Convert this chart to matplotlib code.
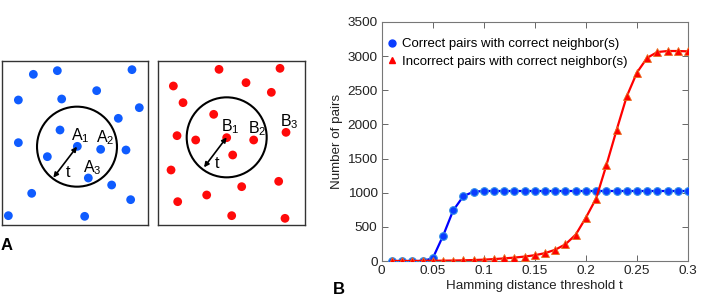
import matplotlib
matplotlib.use("Agg")
import matplotlib.pyplot as plt
from matplotlib.patches import Circle
from matplotlib.lines import Line2D

plt.rcParams['font.family'] = ['Liberation Sans', 'DejaVu Sans']
plt.rcParams['mathtext.fontset'] = 'custom'
plt.rcParams['mathtext.rm'] = 'Liberation Sans'
plt.rcParams['mathtext.it'] = 'Liberation Sans'

# ---- data (panel B) ----
t_vals = [0.01, 0.02, 0.03, 0.04, 0.05, 0.06, 0.07, 0.08, 0.09, 0.10,
          0.11, 0.12, 0.13, 0.14, 0.15, 0.16, 0.17, 0.18, 0.19, 0.20,
          0.21, 0.22, 0.23, 0.24, 0.25, 0.26, 0.27, 0.28, 0.29, 0.30]
correct_pairs = [0, 0, 0, 0, 40, 365, 740, 950, 1015, 1025,
                 1025, 1025, 1025, 1025, 1025, 1025, 1025, 1025, 1025, 1025,
                 1025, 1025, 1025, 1025, 1025, 1025, 1025, 1025, 1025, 1025]
incorrect_pairs = [0, 0, 0, 2, 3, 5, 7, 10, 14, 20,
                   28, 38, 50, 65, 85, 115, 165, 245, 385, 635,
                   915, 1400, 1915, 2410, 2760, 2975, 3060, 3075, 3075, 3070]
series_labels = ['Correct pairs with correct neighbor(s)',
                 'Incorrect pairs with correct neighbor(s)']
x_ticks = [0, 0.05, 0.1, 0.15, 0.2, 0.25, 0.3]
x_tick_labels = ['0', '0.05', '0.1', '0.15', '0.2', '0.25', '0.3']
y_ticks = [0, 500, 1000, 1500, 2000, 2500, 3000, 3500]

# ---- data (panel A schematic) ----
blue_x = [100, 172, 396, 55, 185, 290, 418, 355, 180, 232, 302, 378, 55, 142, 265, 335, 95, 392, 25, 254]
blue_y = [73, 62, 59, 150, 147, 122, 173, 205, 240, 289, 298, 300, 278, 320, 384, 405, 430, 449, 497, 499]
red_x = [192, 375, 55, 273, 349, 84, 176, 66, 122, 215, 296, 393, 233, 48, 371, 260, 155, 68, 230, 390]
red_y = [58, 55, 108, 98, 127, 158, 193, 257, 270, 263, 270, 247, 315, 360, 394, 410, 435, 455, 497, 505]

W, H = 727, 298
fig = plt.figure(figsize=(W / 100, H / 100), dpi=100)


def fax(l, t, r, b):
    return [l / W, 1 - b / H, (r - l) / W, (b - t) / H]


def schematic(ax, xs, ys, color, center, edge, letter, label_pos, t_pos, xlim):
    ax.set_xlim(*xlim)
    ax.set_ylim(525, 33)
    ax.set_xticks([])
    ax.set_yticks([])
    for s in ax.spines.values():
        s.set_color('#333333')
        s.set_linewidth(1.0)
    ax.scatter(xs, ys, s=40, color=color, edgecolors='none', zorder=3)
    ax.add_patch(Circle(center, 120, fill=False, lw=1.5, ec='black', zorder=4))
    ax.annotate('', xy=edge, xytext=center,
                arrowprops=dict(arrowstyle='<|-|>', color='black', lw=1.2,
                                mutation_scale=7, shrinkA=0, shrinkB=0), zorder=5)
    for i, (px, py) in enumerate(label_pos):
        ax.text(px, py, r'$\mathrm{%s}_{\mathrm{%d}}$' % (letter, i + 1), fontsize=11.5,
                ha='left', va='baseline', zorder=6)
    ax.text(t_pos[0], t_pos[1], 't', fontsize=11.5, ha='center', va='center', zorder=6)


axA = fig.add_axes(fax(1.7, 61, 148.3, 225))
schematic(axA, blue_x, blue_y, '#0f5cff', (231, 290), (160, 383), 'A',
          [(214, 272), (287, 277), (250, 368)], (203, 367), (5, 445))

axB = fig.add_axes(fax(157.7, 61, 305, 225))
schematic(axB, red_x, red_y, '#ff0a0a', (215, 262), (147, 352), 'B',
          [(199, 243), (280, 250), (376, 228)], (186, 340), (8, 450))

fig.text(7 / W, 1 - 245 / H, 'A', fontsize=12, fontweight='bold', ha='center', va='center')
fig.text(339 / W, 1 - 290 / H, 'B', fontsize=12, fontweight='bold', ha='center', va='center')

# ---- panel B plot ----
ax = fig.add_axes(fax(381.7, 22, 688, 261))
ax.plot(t_vals, correct_pairs, color='#0000ff', lw=1.6, marker='o', markersize=5.5,
        markerfacecolor='#0a3cff', markeredgecolor='#2f8fe8', markeredgewidth=0.8, zorder=3)
ax.plot(t_vals, incorrect_pairs, color='#ff0000', lw=1.6, marker='^', markersize=5.5,
        markerfacecolor='#ff0000', markeredgecolor='#e87020', markeredgewidth=0.6, zorder=4)
ax.set_xlim(0, 0.3)
ax.set_ylim(0, 3500)
ax.set_xticks(x_ticks)
ax.set_xticklabels(x_tick_labels)
ax.set_yticks(y_ticks)
ax.tick_params(direction='in', top=True, right=True, length=4, width=0.7,
               color='#666666', labelsize=9.7, labelcolor='#222222', pad=3)
for s in ax.spines.values():
    s.set_color('#777777')
    s.set_linewidth(0.8)
ax.set_xlabel('Hamming distance threshold t', fontsize=9.6, color='#222222', labelpad=2)
ax.set_ylabel('Number of pairs', fontsize=9.6, color='#222222', labelpad=3)

handles = [Line2D([], [], ls='none', marker='o', color='#0a3cff', markersize=5),
           Line2D([], [], ls='none', marker='^', color='#ff0000', markersize=5)]
ax.legend(handles, series_labels, loc='upper left', bbox_to_anchor=(0.022, 0.932),
          frameon=False, fontsize=9.5, handlelength=0.6, handletextpad=0.4,
          borderaxespad=0.0, labelspacing=0.4, borderpad=0.0)

fig.savefig('out.png', dpi=100)
